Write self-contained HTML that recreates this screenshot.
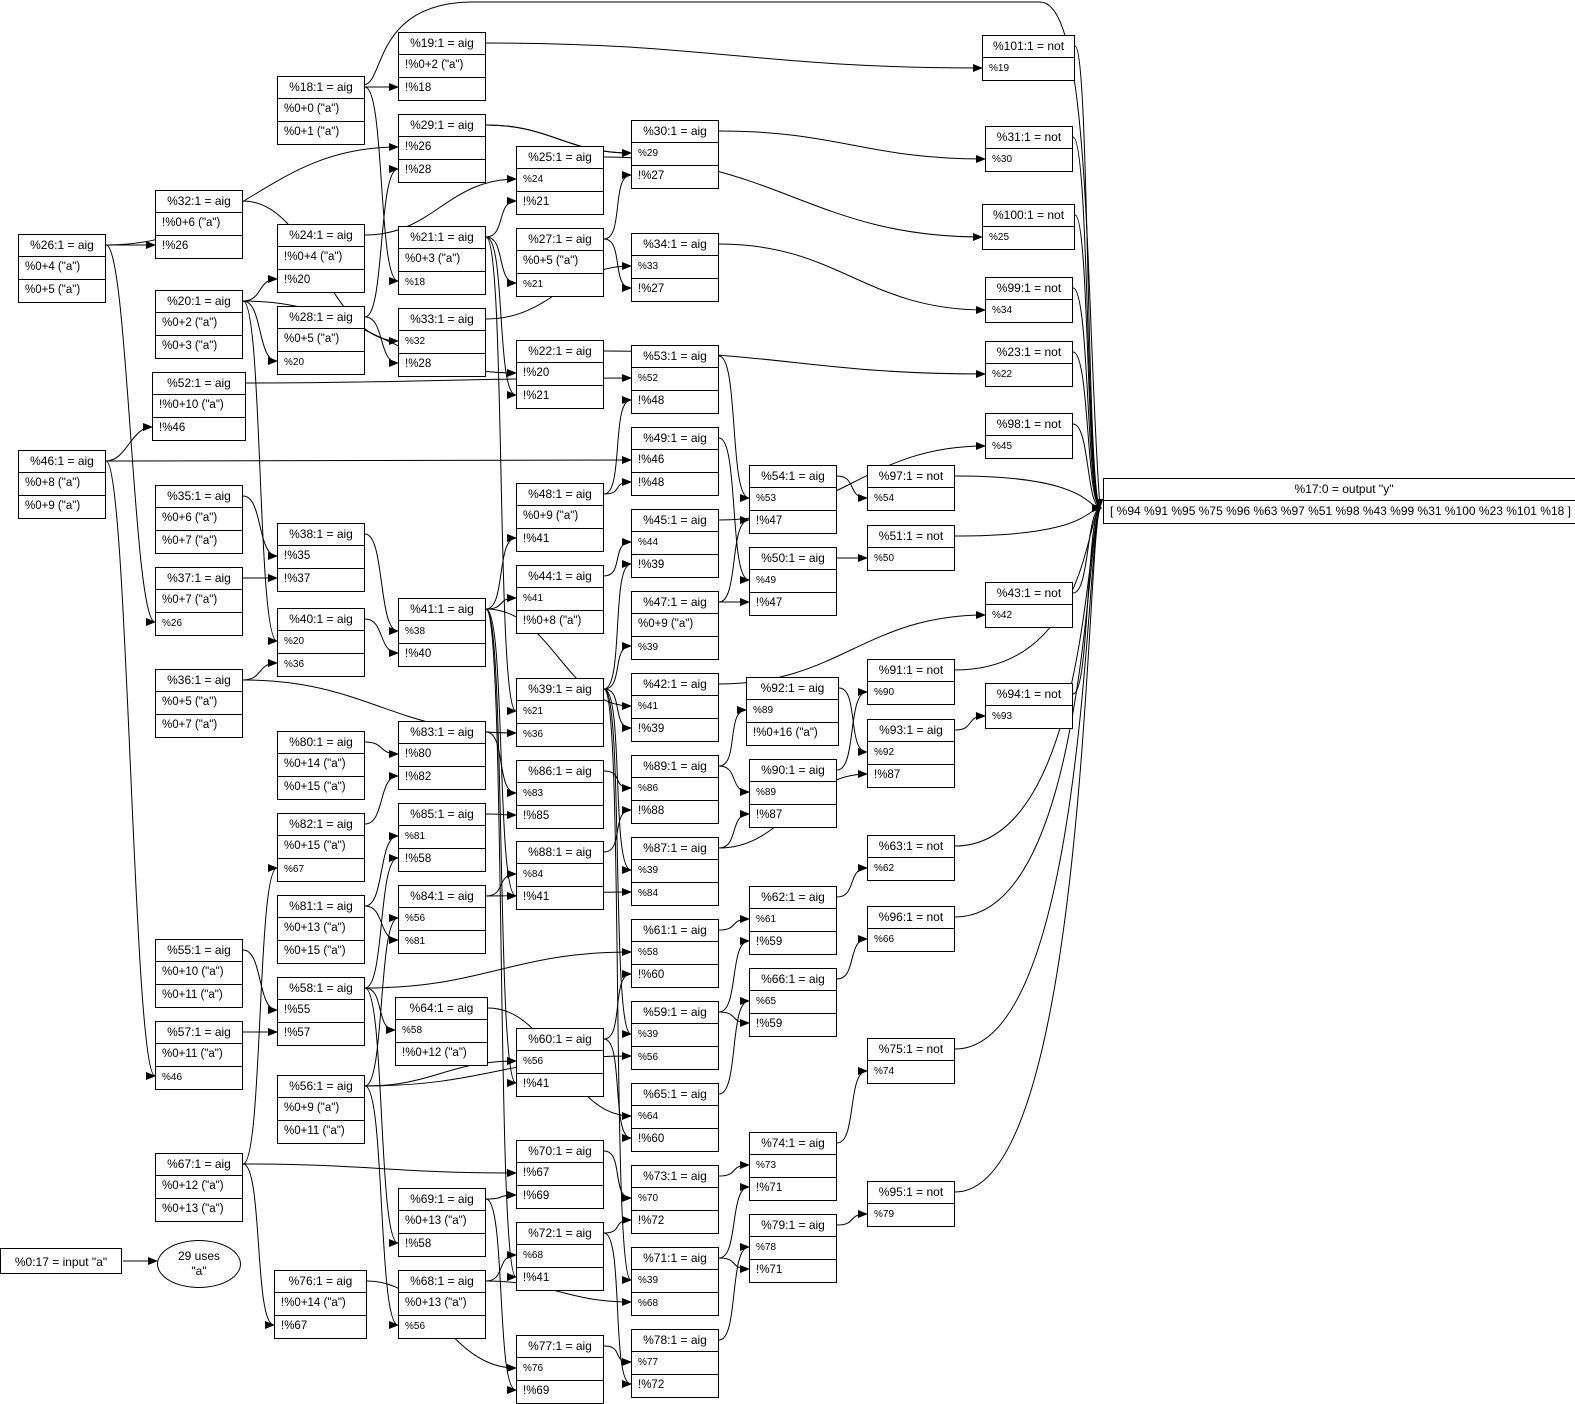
<!DOCTYPE html>
<html><head><meta charset="utf-8">
<style>
body{margin:0;width:1575px;height:1404px;position:relative;background:#fff;overflow:hidden}
svg{position:absolute;left:0;top:0}
.n{position:absolute;width:86px;border:1px solid #000;background:#fff;font:12px "Liberation Sans",sans-serif;color:#000;box-sizing:content-box}
.n b,.n i{display:block;height:22px;line-height:21px;font-weight:normal;font-style:normal;white-space:nowrap;overflow:hidden}
.n b{text-align:center;height:21px}
.n i{border-top:1px solid #000;padding-left:6px;font-size:11.5px}
.n i.s{font-size:10px}
.o{width:480px}
.o i{font-size:12px}
.in{position:absolute;left:0;top:1248px;width:122px;height:26px;border:1px solid #000;font:12px "Liberation Sans",sans-serif;text-align:center;line-height:26px;box-sizing:border-box}
.el{position:absolute;left:157px;top:1240px;width:84px;height:48px;border:1px solid #000;border-radius:50%;font:12px "Liberation Sans",sans-serif;text-align:center;box-sizing:border-box;padding-top:8px;line-height:15px}
</style></head><body>
<svg id="sv" width="1575" height="1404"><defs><marker id="a" markerWidth="10" markerHeight="8" refX="9" refY="4" orient="auto" markerUnits="userSpaceOnUse"><path d="M0,0L10,4L0,8z"/></marker></defs>
<path d="M363,85 C385,85 372,4 470,2 L1040,2 C1092,2 1085,300 1100,508" fill="none" stroke="#000" marker-end="url(#a)"/>
<path d="M123,1261 L157,1261" fill="none" stroke="#000" marker-end="url(#a)"/>
</svg>

<div class="n" id="n26" style="left:18px;top:234px"><b>%26:1 = aig</b><i>%0+4 ("a")</i><i>%0+5 ("a")</i></div>
<div class="n" id="n46" style="left:18px;top:450px"><b>%46:1 = aig</b><i>%0+8 ("a")</i><i>%0+9 ("a")</i></div>

<div class="n" id="n32" style="left:155px;top:190px"><b>%32:1 = aig</b><i>!%0+6 ("a")</i><i>!%26</i></div>
<div class="n" id="n20" style="left:155px;top:290px"><b>%20:1 = aig</b><i>%0+2 ("a")</i><i>%0+3 ("a")</i></div>
<div class="n" id="n52" style="left:152px;top:372px;width:92px"><b>%52:1 = aig</b><i>!%0+10 ("a")</i><i>!%46</i></div>
<div class="n" id="n35" style="left:155px;top:485px"><b>%35:1 = aig</b><i>%0+6 ("a")</i><i>%0+7 ("a")</i></div>
<div class="n" id="n37" style="left:155px;top:567px"><b>%37:1 = aig</b><i>%0+7 ("a")</i><i class="s">%26</i></div>
<div class="n" id="n36" style="left:155px;top:669px"><b>%36:1 = aig</b><i>%0+5 ("a")</i><i>%0+7 ("a")</i></div>
<div class="n" id="n55" style="left:155px;top:939px"><b>%55:1 = aig</b><i>%0+10 ("a")</i><i>%0+11 ("a")</i></div>
<div class="n" id="n57" style="left:155px;top:1021px"><b>%57:1 = aig</b><i>%0+11 ("a")</i><i class="s">%46</i></div>
<div class="n" id="n67" style="left:155px;top:1153px"><b>%67:1 = aig</b><i>%0+12 ("a")</i><i>%0+13 ("a")</i></div>

<div class="n" id="n18" style="left:277px;top:76px"><b>%18:1 = aig</b><i>%0+0 ("a")</i><i>%0+1 ("a")</i></div>
<div class="n" id="n24" style="left:277px;top:224px"><b>%24:1 = aig</b><i>!%0+4 ("a")</i><i>!%20</i></div>
<div class="n" id="n28" style="left:277px;top:306px"><b>%28:1 = aig</b><i>%0+5 ("a")</i><i class="s">%20</i></div>
<div class="n" id="n38" style="left:277px;top:523px"><b>%38:1 = aig</b><i>!%35</i><i>!%37</i></div>
<div class="n" id="n40" style="left:277px;top:608px"><b>%40:1 = aig</b><i class="s">%20</i><i class="s">%36</i></div>
<div class="n" id="n80" style="left:277px;top:731px"><b>%80:1 = aig</b><i>%0+14 ("a")</i><i>%0+15 ("a")</i></div>
<div class="n" id="n82" style="left:277px;top:813px"><b>%82:1 = aig</b><i>%0+15 ("a")</i><i class="s">%67</i></div>
<div class="n" id="n81" style="left:277px;top:895px"><b>%81:1 = aig</b><i>%0+13 ("a")</i><i>%0+15 ("a")</i></div>
<div class="n" id="n58" style="left:277px;top:977px"><b>%58:1 = aig</b><i>!%55</i><i>!%57</i></div>
<div class="n" id="n56" style="left:277px;top:1075px"><b>%56:1 = aig</b><i>%0+9 ("a")</i><i>%0+11 ("a")</i></div>
<div class="n" id="n76" style="left:274px;top:1270px;width:91px"><b>%76:1 = aig</b><i>!%0+14 ("a")</i><i>!%67</i></div>

<div class="n" id="n19" style="left:398px;top:32px"><b>%19:1 = aig</b><i>!%0+2 ("a")</i><i>!%18</i></div>
<div class="n" id="n29" style="left:398px;top:114px"><b>%29:1 = aig</b><i>!%26</i><i>!%28</i></div>
<div class="n" id="n21" style="left:398px;top:226px"><b>%21:1 = aig</b><i>%0+3 ("a")</i><i class="s">%18</i></div>
<div class="n" id="n33" style="left:398px;top:308px"><b>%33:1 = aig</b><i class="s">%32</i><i>!%28</i></div>
<div class="n" id="n41" style="left:398px;top:598px"><b>%41:1 = aig</b><i class="s">%38</i><i>!%40</i></div>
<div class="n" id="n83" style="left:398px;top:721px"><b>%83:1 = aig</b><i>!%80</i><i>!%82</i></div>
<div class="n" id="n85" style="left:398px;top:803px"><b>%85:1 = aig</b><i class="s">%81</i><i>!%58</i></div>
<div class="n" id="n84" style="left:398px;top:885px"><b>%84:1 = aig</b><i class="s">%56</i><i class="s">%81</i></div>
<div class="n" id="n64" style="left:395px;top:997px;width:91px"><b>%64:1 = aig</b><i class="s">%58</i><i>!%0+12 ("a")</i></div>
<div class="n" id="n69" style="left:398px;top:1188px"><b>%69:1 = aig</b><i>%0+13 ("a")</i><i>!%58</i></div>
<div class="n" id="n68" style="left:398px;top:1270px"><b>%68:1 = aig</b><i>%0+13 ("a")</i><i class="s">%56</i></div>

<div class="n" id="n25" style="left:516px;top:146px"><b>%25:1 = aig</b><i class="s">%24</i><i>!%21</i></div>
<div class="n" id="n27" style="left:516px;top:228px"><b>%27:1 = aig</b><i>%0+5 ("a")</i><i class="s">%21</i></div>
<div class="n" id="n22" style="left:516px;top:340px"><b>%22:1 = aig</b><i>!%20</i><i>!%21</i></div>
<div class="n" id="n48" style="left:516px;top:483px"><b>%48:1 = aig</b><i>%0+9 ("a")</i><i>!%41</i></div>
<div class="n" id="n44" style="left:516px;top:565px"><b>%44:1 = aig</b><i class="s">%41</i><i>!%0+8 ("a")</i></div>
<div class="n" id="n39" style="left:516px;top:678px"><b>%39:1 = aig</b><i class="s">%21</i><i class="s">%36</i></div>
<div class="n" id="n86" style="left:516px;top:760px"><b>%86:1 = aig</b><i class="s">%83</i><i>!%85</i></div>
<div class="n" id="n88" style="left:516px;top:841px"><b>%88:1 = aig</b><i class="s">%84</i><i>!%41</i></div>
<div class="n" id="n60" style="left:516px;top:1028px"><b>%60:1 = aig</b><i class="s">%56</i><i>!%41</i></div>
<div class="n" id="n70" style="left:516px;top:1140px"><b>%70:1 = aig</b><i>!%67</i><i>!%69</i></div>
<div class="n" id="n72" style="left:516px;top:1222px"><b>%72:1 = aig</b><i class="s">%68</i><i>!%41</i></div>
<div class="n" id="n77" style="left:516px;top:1335px"><b>%77:1 = aig</b><i class="s">%76</i><i>!%69</i></div>

<div class="n" id="n30" style="left:631px;top:120px"><b>%30:1 = aig</b><i class="s">%29</i><i>!%27</i></div>
<div class="n" id="n34" style="left:631px;top:233px"><b>%34:1 = aig</b><i class="s">%33</i><i>!%27</i></div>
<div class="n" id="n53" style="left:631px;top:345px"><b>%53:1 = aig</b><i class="s">%52</i><i>!%48</i></div>
<div class="n" id="n49" style="left:631px;top:427px"><b>%49:1 = aig</b><i>!%46</i><i>!%48</i></div>
<div class="n" id="n45" style="left:631px;top:509px"><b>%45:1 = aig</b><i class="s">%44</i><i>!%39</i></div>
<div class="n" id="n47" style="left:631px;top:591px"><b>%47:1 = aig</b><i>%0+9 ("a")</i><i class="s">%39</i></div>
<div class="n" id="n42" style="left:631px;top:673px"><b>%42:1 = aig</b><i class="s">%41</i><i>!%39</i></div>
<div class="n" id="n89" style="left:631px;top:755px"><b>%89:1 = aig</b><i class="s">%86</i><i>!%88</i></div>
<div class="n" id="n87" style="left:631px;top:837px"><b>%87:1 = aig</b><i class="s">%39</i><i class="s">%84</i></div>
<div class="n" id="n61" style="left:631px;top:919px"><b>%61:1 = aig</b><i class="s">%58</i><i>!%60</i></div>
<div class="n" id="n59" style="left:631px;top:1001px"><b>%59:1 = aig</b><i class="s">%39</i><i class="s">%56</i></div>
<div class="n" id="n65" style="left:631px;top:1083px"><b>%65:1 = aig</b><i class="s">%64</i><i>!%60</i></div>
<div class="n" id="n73" style="left:631px;top:1165px"><b>%73:1 = aig</b><i class="s">%70</i><i>!%72</i></div>
<div class="n" id="n71" style="left:631px;top:1247px"><b>%71:1 = aig</b><i class="s">%39</i><i class="s">%68</i></div>
<div class="n" id="n78" style="left:631px;top:1329px"><b>%78:1 = aig</b><i class="s">%77</i><i>!%72</i></div>

<div class="n" id="n54" style="left:749px;top:465px"><b>%54:1 = aig</b><i class="s">%53</i><i>!%47</i></div>
<div class="n" id="n50" style="left:749px;top:547px"><b>%50:1 = aig</b><i class="s">%49</i><i>!%47</i></div>
<div class="n" id="n92" style="left:746px;top:677px;width:91px"><b>%92:1 = aig</b><i class="s">%89</i><i>!%0+16 ("a")</i></div>
<div class="n" id="n90" style="left:749px;top:759px"><b>%90:1 = aig</b><i class="s">%89</i><i>!%87</i></div>
<div class="n" id="n62" style="left:749px;top:886px"><b>%62:1 = aig</b><i class="s">%61</i><i>!%59</i></div>
<div class="n" id="n66" style="left:749px;top:968px"><b>%66:1 = aig</b><i class="s">%65</i><i>!%59</i></div>
<div class="n" id="n74" style="left:749px;top:1132px"><b>%74:1 = aig</b><i class="s">%73</i><i>!%71</i></div>
<div class="n" id="n79" style="left:749px;top:1214px"><b>%79:1 = aig</b><i class="s">%78</i><i>!%71</i></div>

<div class="n" id="n97" style="left:867px;top:465px"><b>%97:1 = not</b><i class="s">%54</i></div>
<div class="n" id="n51" style="left:867px;top:525px"><b>%51:1 = not</b><i class="s">%50</i></div>
<div class="n" id="n91" style="left:867px;top:659px"><b>%91:1 = not</b><i class="s">%90</i></div>
<div class="n" id="n93" style="left:867px;top:719px"><b>%93:1 = aig</b><i class="s">%92</i><i>!%87</i></div>
<div class="n" id="n63" style="left:867px;top:835px"><b>%63:1 = not</b><i class="s">%62</i></div>
<div class="n" id="n96" style="left:867px;top:906px"><b>%96:1 = not</b><i class="s">%66</i></div>
<div class="n" id="n75" style="left:867px;top:1038px"><b>%75:1 = not</b><i class="s">%74</i></div>
<div class="n" id="n95" style="left:867px;top:1181px"><b>%95:1 = not</b><i class="s">%79</i></div>

<div class="n" id="n101" style="left:982px;top:35px;width:91px"><b>%101:1 = not</b><i class="s">%19</i></div>
<div class="n" id="n31" style="left:985px;top:126px"><b>%31:1 = not</b><i class="s">%30</i></div>
<div class="n" id="n100" style="left:982px;top:204px;width:91px"><b>%100:1 = not</b><i class="s">%25</i></div>
<div class="n" id="n99" style="left:985px;top:277px"><b>%99:1 = not</b><i class="s">%34</i></div>
<div class="n" id="n23" style="left:985px;top:341px"><b>%23:1 = not</b><i class="s">%22</i></div>
<div class="n" id="n98" style="left:985px;top:413px"><b>%98:1 = not</b><i class="s">%45</i></div>
<div class="n" id="n43" style="left:985px;top:582px"><b>%43:1 = not</b><i class="s">%42</i></div>
<div class="n" id="n94" style="left:985px;top:683px"><b>%94:1 = not</b><i class="s">%93</i></div>

<div class="n o" id="n17" style="left:1103px;top:478px"><b>%17:0 = output "y"</b><i>[ %94 %91 %95 %75 %96 %63 %97 %51 %98 %43 %99 %31 %100 %23 %101 %18 ]</i></div>

<div class="in">%0:17 = input "a"</div>
<div class="el">29 uses<br>"a"</div>

<script>
var E=[[26,32,2],[26,29,1],[26,37,2],[46,52,2],[46,49,1],[46,57,2],[20,24,2],[20,28,2],[20,40,1],[20,22,1],
[18,19,2],[18,21,2],[32,33,1],[24,25,1],[28,29,2],[28,33,2],[21,25,2],[21,27,2],[21,22,2],[21,39,1],
[29,30,1],[27,30,2],[27,34,2],[33,34,1],[52,53,1],[48,53,2],[48,49,2],[53,54,1],[49,50,1],
[35,38,1],[37,38,2],[36,40,2],[36,39,2],[38,41,1],[40,41,2],[41,48,2],[41,44,1],[41,42,1],[41,88,2],[41,60,2],[41,72,2],
[44,45,1],[39,45,2],[39,47,2],[39,42,2],[39,87,1],[39,59,1],[39,71,1],[47,54,2],[47,50,2],
[80,83,1],[82,83,2],[67,82,2],[67,70,1],[67,76,2],[83,86,1],[81,85,1],[81,84,2],[58,85,2],[58,64,1],[58,61,1],[58,69,2],
[55,58,1],[57,58,2],[85,86,2],[56,84,1],[56,60,1],[56,59,2],[56,68,2],[84,88,1],[84,87,2],[86,89,1],[88,89,2],
[89,92,1],[89,90,1],[87,90,2],[87,93,2],[92,93,1],[64,65,1],[60,61,2],[60,65,2],[61,62,1],[59,62,2],[59,66,2],[65,66,1],
[69,70,2],[69,77,2],[70,73,1],[72,73,2],[72,78,2],[68,72,1],[68,71,2],[76,77,1],[73,74,1],[71,74,2],[71,79,2],[77,78,1],[78,79,1],
[19,101,1],[29,30,1],[25,100,1],[30,31,1],[34,99,1],[22,23,1],[45,98,1],[54,97,1],[50,51,1],[42,43,1],[90,91,1],[93,94,1],
[62,63,1],[66,96,1],[74,75,1],[79,95,1]];
var OUT=[94,91,95,75,96,63,97,51,98,43,99,31,100,23,101];
var sv=document.getElementById('sv'),s='';
function g(i){var e=document.getElementById('n'+i);return {x:e.offsetLeft,y:e.offsetTop,w:e.offsetWidth};}
E.forEach(function(e){var a=g(e[0]),b=g(e[1]);var sx=a.x+a.w,sy=a.y+11,tx=b.x,ty=b.y+22*e[2]+11;
var d=Math.max(20,(tx-sx)*0.45);
s+='<path d="M'+sx+','+sy+' C'+(sx+d)+','+sy+' '+(tx-d)+','+ty+' '+tx+','+ty+'" fill="none" stroke="#000" marker-end="url(#a)"/>';});
OUT.forEach(function(i){var a=g(i);var sx=a.x+a.w,sy=a.y+11,tx=1101,ty=508;
s+='<path d="M'+sx+','+sy+' C1090,'+sy+' 1086,'+ty+' '+tx+','+ty+'" fill="none" stroke="#000" marker-end="url(#a)"/>';});
sv.insertAdjacentHTML('beforeend',s);
</script>
</body></html>
